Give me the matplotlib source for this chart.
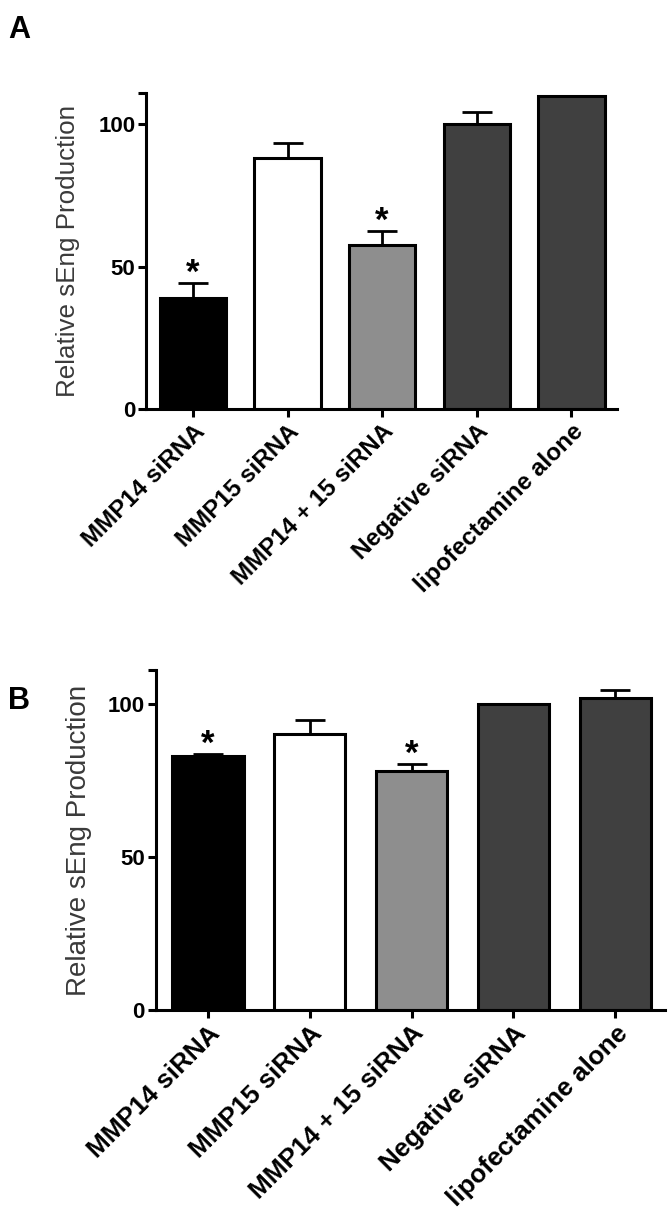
import numpy as np
import matplotlib
matplotlib.use('Agg')
import matplotlib.pyplot as plt

plt.rcParams['font.family'] = ['Liberation Sans', 'DejaVu Sans']

# data
groups = ['MMP14 siRNA', 'MMP15 siRNA', 'MMP14 + 15 siRNA', 'Negative siRNA', 'lipofectamine alone']
colors = ['#000000', '#ffffff', '#8e8e8e', '#404040', '#404040']

vals_a = [39, 88, 57.5, 100, 110]
err_a = [5.2, 5.3, 5.0, 4.4, 0]
star_a = [True, False, True, False, False]

vals_b = [83, 90, 78, 100, 102]
err_b = [0.7, 4.6, 2.4, 0, 2.6]
star_b = [True, False, True, False, False]

fig = plt.figure(figsize=(6.72, 12.19), dpi=100)


def panel(rect, vals, errs, stars, xlim, labx, fs):
    ax = fig.add_axes(rect)
    x = np.arange(len(groups))
    ax.bar(x, vals, width=0.7, color=colors, edgecolor='black', linewidth=2.2, zorder=2)
    low = np.zeros(len(errs))
    ax.errorbar(x, vals, yerr=[low, errs], fmt='none', ecolor='black',
                elinewidth=2.0, capsize=11, capthick=2.0, zorder=1)
    for i in range(len(vals)):
        if stars[i]:
            ax.annotate('*', (x[i], vals[i] + errs[i]), xytext=(0, -5), textcoords='offset points',
                        ha='center', va='bottom', fontsize=25, fontweight='bold')
    ax.set_xlim(*xlim)
    ax.set_ylim(0, 111)
    ax.set_yticks([0, 50, 100])
    ax.set_yticks([111], minor=True)
    ax.tick_params(axis='y', which='minor', length=6, width=2.2)
    ax.set_xticks(x)
    ax.set_xticklabels(groups, rotation=45, ha='right', rotation_mode='anchor',
                       fontsize=fs, fontweight='bold')
    for lab in ax.get_yticklabels():
        lab.set_fontweight('bold')
        lab.set_fontsize(16)
    ax.tick_params(axis='both', which='major', length=6, width=2.2, direction='out', pad=2)
    for s in ['top', 'right']:
        ax.spines[s].set_visible(False)
    for s in ['left', 'bottom']:
        ax.spines[s].set_linewidth(2.2)
    ax.set_ylabel('Relative sEng Production', fontsize=fs + 1.2, color='#3a3a3a', va='center')
    ax.yaxis.set_label_coords(labx, 0.5)
    return ax


ax1 = panel([0.218, 0.6645, 0.700, 0.2592], vals_a, err_a, star_a, (-0.49, 4.48), -0.167, 17.5)
ax2 = panel([0.232, 0.1715, 0.758, 0.2789], vals_b, err_b, star_b, (-0.51, 4.49), -0.151, 18.8)

fig.text(0.012, 0.988, 'A', fontsize=22, fontweight='bold', va='top')
fig.text(0.012, 0.437, 'B', fontsize=22, fontweight='bold', va='top')

fig.savefig('out.png', dpi=100)
